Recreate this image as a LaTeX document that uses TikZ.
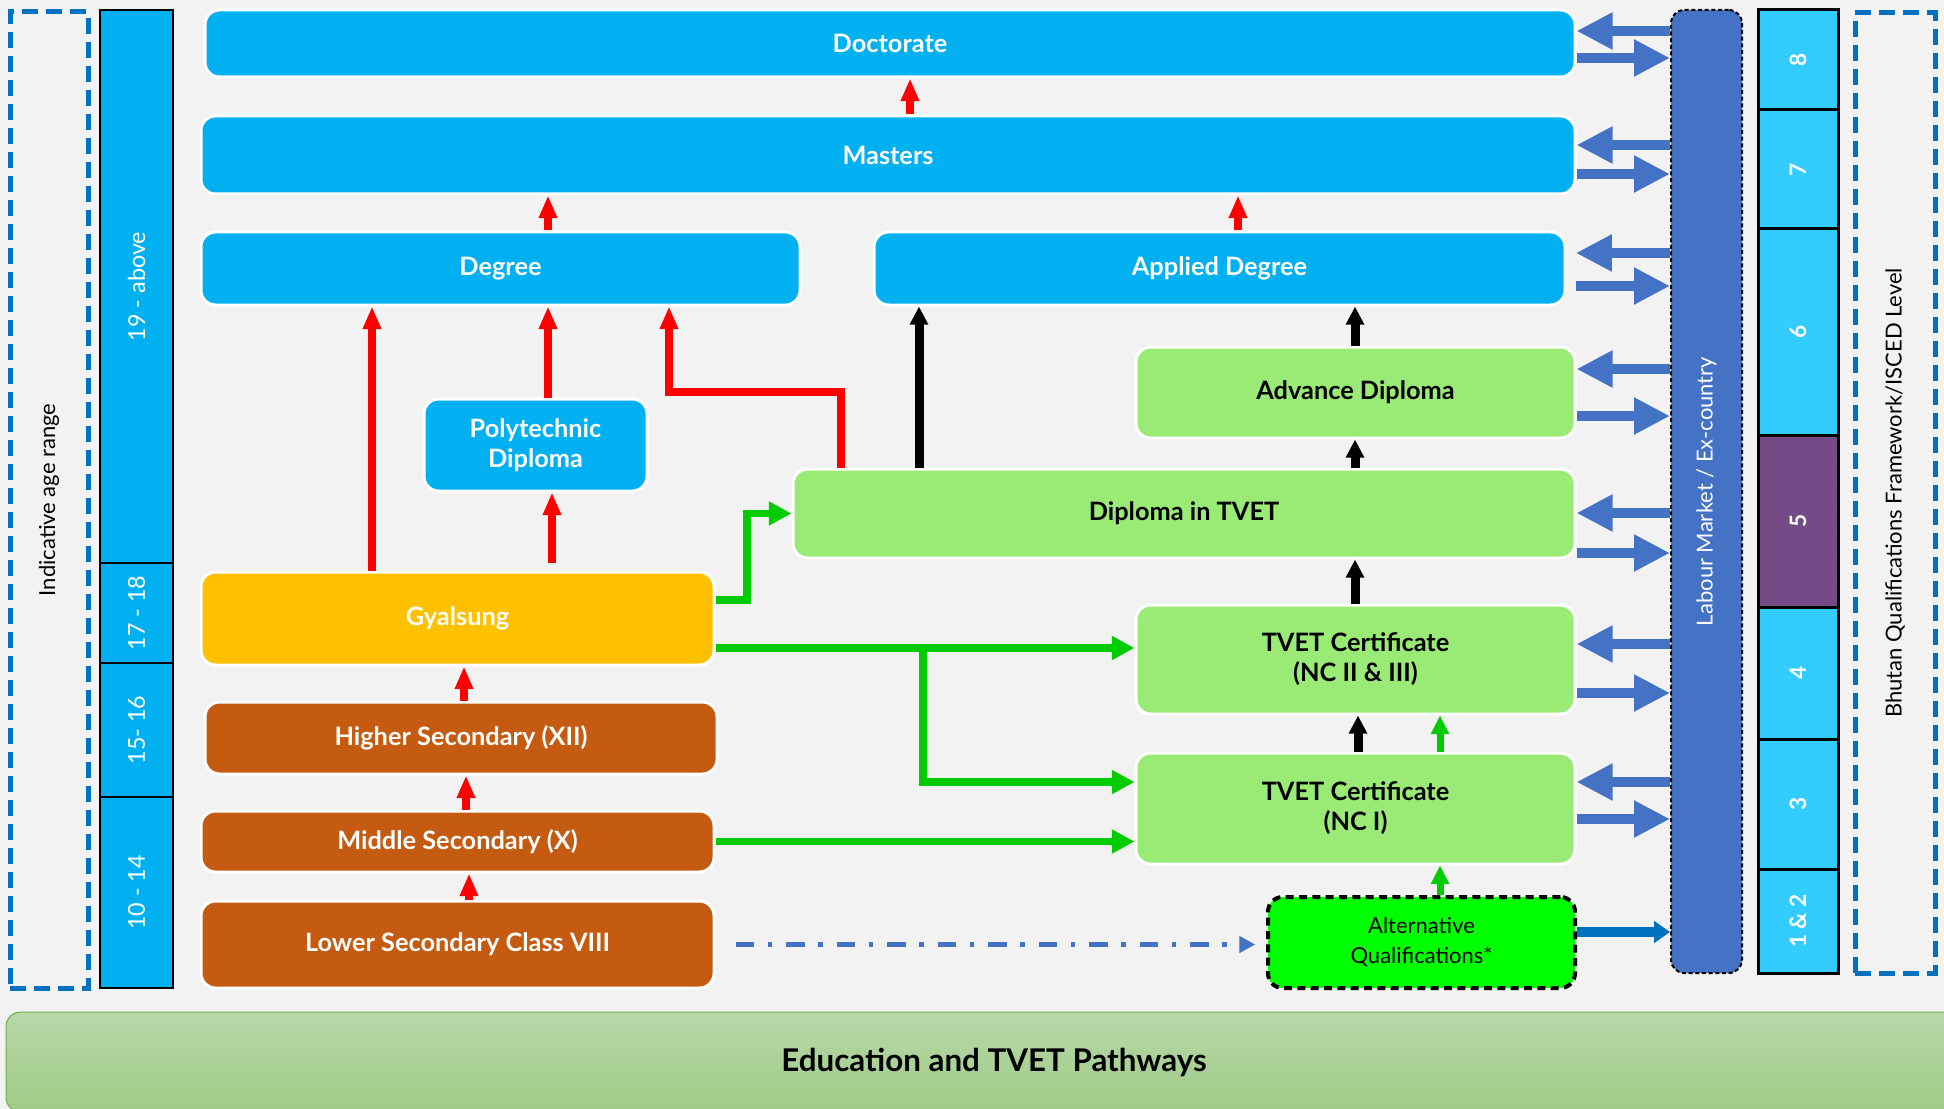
\documentclass[tikz,border=0pt]{standalone}
\usepackage{fontspec}
\setmainfont{Lato}
\usetikzlibrary{arrows.meta,fit}
\definecolor{cBg}{HTML}{F2F2F2}
\definecolor{cBlue}{HTML}{00B0F0}
\definecolor{cGreen}{HTML}{9AEB76}
\definecolor{cGold}{HTML}{FFC000}
\definecolor{cBrown}{HTML}{C55A11}
\definecolor{cAlt}{HTML}{00FF00}
\definecolor{cLab}{HTML}{4472C4}
\definecolor{cDeep}{HTML}{0070C0}
\definecolor{cLevel}{HTML}{33CCFF}
\definecolor{cPurple}{HTML}{744B86}
\definecolor{cRed}{HTML}{FF0000}
\definecolor{cLine}{HTML}{00CC00}
\definecolor{cBanTop}{HTML}{B7D8A9}
\definecolor{cBanBot}{HTML}{9ECB87}
\definecolor{cBanEdge}{HTML}{70AD47}
\newcommand\boxfont{\bfseries\fontsize{19}{22.5}\selectfont}
\newcommand\sidefont{\fontsize{16.5}{20}\selectfont}
% \qbox{style}{name}{left}{top}{right}{bottom}{text}: a box given by its corners (in px)
\newcommand\qbox[7]{%
  \pgfmathsetmacro\qw{0.75*(#5-#3)}%
  \pgfmathsetmacro\qh{0.75*(#6-#4)}%
  \node[#1, minimum width=\qw pt, minimum height=\qh pt] (#2) at ({(#3+#5)/2},{(#4+#6)/2}) {#7};}
\begin{document}
\begin{tikzpicture}[x=0.75pt,y=-0.75pt,
  box/.style={rounded corners=11pt, draw=white, line width=2.25pt, inner sep=0pt, align=center, font=\boxfont},
  blueb/.style={box, fill=cBlue, text=white},
  greenb/.style={box, fill=cGreen, text=black},
  goldb/.style={box, fill=cGold, text=white},
  brownb/.style={box, fill=cBrown, text=white},
  altb/.style={rounded corners=11pt, draw=black, line width=3pt, dash pattern=on 6pt off 4pt, fill=cAlt, inner sep=0pt, align=center, font=\fontsize{16.5}{22.5}\selectfont},
  labb/.style={rounded corners=10pt, draw=black, line width=1.5pt, dash pattern=on 3pt off 2pt, fill=cLab, inner sep=0pt},
  agecell/.style={draw=black, line width=1.5pt, fill=cBlue, inner sep=0pt},
  lvlcell/.style={draw=black, line width=2.25pt, fill=cLevel, inner sep=0pt},
  agetxt/.style={rotate=90, text=white, font=\fontsize{17.5}{20}\selectfont},
  lvltxt/.style={rotate=90, text=white, font=\bfseries\fontsize{17}{20}\selectfont},
  sidetxt/.style={rotate=90, font=\sidefont},
  dashbox/.style={draw=cDeep, line width=3.75pt, dash pattern=on 12pt off 6pt, inner sep=0pt},
  banner/.style={rounded corners=11pt, draw=cBanEdge, line width=0.75pt, top color=cBanTop, bottom color=cBanBot, inner sep=0pt, font=\bfseries\fontsize{23.5}{26}\selectfont},
  redarr/.style={draw=cRed, line width=6pt, -{Triangle[length=17pt,width=13pt]}},
  blackarr/.style={draw=black, line width=6.75pt, -{Triangle[length=13.5pt,width=13pt]}},
  greenarr/.style={draw=cLine, line width=5.6pt, -{Triangle[length=17pt,width=17pt]}},
  greenup/.style={draw=cLine, line width=5.25pt, -{Triangle[length=14pt,width=13pt]}},
  dbl/.style={draw=cLab, line width=7.5pt, -{Triangle[length=27pt,width=26pt]}},
  altarr/.style={draw=cDeep, line width=7pt, -{Triangle[length=12pt,width=16pt]}},
  dashdot/.style={draw=cLab, line width=3.4pt, dash pattern=on 14pt off 10pt on 3.4pt off 10.5pt, -{Triangle[length=12pt,width=12pt]}}
]
\useasboundingbox (0,0) rectangle (1944,1109);
\clip (0,0) rectangle (1944,1109);
\fill[cBg] (0,0) rectangle (1944,1109);

% title banner
\qbox{banner}{title}{6}{1012}{1982}{1112}{Education and TVET Pathways}

% age range column
\node[dashbox, fit={(10,12)(88,988)}] (agebox) {};
\node[sidetxt] (agelbl) at (agebox) {Indicative age range};
\node[agecell, fit={(100,10)(173,563)}] (a19) {};
\node[agecell, fit={(100,563)(173,663)}] (a17) {};
\node[agecell, fit={(100,663)(173,797)}] (a15) {};
\node[agecell, fit={(100,797)(173,988)}] (a10) {};
\node[agetxt] (t19) at (a19) {19 - above};
\node[agetxt] (t17) at (a17) {17 - 18};
\node[agetxt] (t15) at (a15) {15- 16};
\node[agetxt] (t10) at (a10) {10 - 14};

% qualification levels column
\node[dashbox, fit={(1855,13)(1935,973)}] (lvlbox) {};
\node[sidetxt] (lvllbl) at (lvlbox) {Bhutan Qualifications Framework/ISCED Level};
\node[lvlcell, fit={(1758,10)(1838,110)}] (l8) {};
\node[lvlcell, fit={(1758,110)(1838,229)}] (l7) {};
\node[lvlcell, fit={(1758,229)(1838,435)}] (l6) {};
\node[lvlcell, fill=cPurple, fit={(1758,435)(1838,607)}] (l5) {};
\node[lvlcell, fit={(1758,607)(1838,739)}] (l4) {};
\node[lvlcell, fit={(1758,739)(1838,869)}] (l3) {};
\node[lvlcell, fit={(1758,869)(1838,973)}] (l12) {};
\node[lvltxt] (n8) at (l8) {8};
\node[lvltxt] (n7) at (l7) {7};
\node[lvltxt] (n6) at (l6) {6};
\node[lvltxt] (n5) at (l5) {5};
\node[lvltxt] (n4) at (l4) {4};
\node[lvltxt] (n3) at (l3) {3};
\node[lvltxt] (n12) at (l12) {1 \& 2};

% labour market bar
\node[labb, fit={(1671,10)(1742,973)}] (lab) {};
\node[sidetxt, text=white] (lablbl) at (lab) {Labour Market / Ex-country};

% qualification boxes
\qbox{blueb}{doc}{205}{10}{1575}{77}{Doctorate}
\qbox{blueb}{mas}{201}{116}{1575}{194}{Masters}
\qbox{blueb}{deg}{201}{232}{800}{305}{Degree}
\qbox{blueb}{adeg}{874}{232}{1565}{305}{Applied Degree}
\qbox{blueb}{poly}{424}{399}{647}{491}{Polytechnic\\Diploma}
\qbox{greenb}{adv}{1136}{347}{1575}{438}{Advance Diploma}
\qbox{greenb}{dip}{793}{469}{1575}{558}{Diploma in TVET}
\qbox{goldb}{gya}{201}{572}{714}{665}{Gyalsung}
\qbox{greenb}{nc2}{1136}{605}{1575}{714}{TVET Certificate\\(NC II \& III)}
\qbox{greenb}{nc1}{1136}{753}{1575}{864}{TVET Certificate\\(NC I)}
\qbox{brownb}{hs}{205}{702}{717}{774}{Higher Secondary (XII)}
\qbox{brownb}{ms}{201}{811}{714}{872}{Middle Secondary (X)}
\qbox{brownb}{ls}{201}{901}{714}{988}{Lower Secondary Class VIII}
\qbox{altb}{alt}{1268}{897}{1575}{988}{Alternative\\Qualifications*}

% academic progression
\draw[redarr] (910,0 |- mas.north) -- (910,0 |- doc.south);
\draw[redarr] (548,0 |- deg.north) -- (548,0 |- mas.south);
\draw[redarr] (1238,0 |- adeg.north) -- (1238,0 |- mas.south);
\draw[redarr] (372,0 |- gya.north) -- (372,0 |- deg.south);
\draw[redarr] (548,0 |- poly.north) -- (548,0 |- deg.south);
\draw[redarr] (552,563) -- (552,0 |- poly.south);
\draw[redarr] (841,0 |- dip.north) -- (841,392) -| (669,0 |- deg.south);
\draw[redarr] (464,0 |- hs.north) -- (464,0 |- gya.south);
\draw[redarr] (466,0 |- ms.north) -- (466,0 |- hs.south);
\draw[redarr] (469,0 |- ls.north) -- (469,0 |- ms.south);

% TVET progression
\draw[blackarr] (919,0 |- dip.north) -- (919,0 |- adeg.south);
\draw[blackarr] (1355,0 |- adv.north) -- (1355,0 |- adeg.south);
\draw[blackarr] (1355,0 |- dip.north) -- (1355,0 |- adv.south);
\draw[blackarr] (1355,0 |- nc2.north) -- (1355,0 |- dip.south);
\draw[blackarr] (1358,0 |- nc1.north) -- (1358,0 |- nc2.south);
\draw[greenup] (1440,0 |- nc1.north) -- (1440,0 |- nc2.south);
\draw[greenup] (1440,0 |- alt.north) -- (1440,0 |- nc1.south);

% entry routes into TVET
\coordinate (split) at (923,648);
\draw[greenarr] (gya.east |- 0,600) -- (747,600) |- (dip.west);
\draw[greenarr] (gya.east |- split) -- (nc2.west |- split);
\draw[greenarr] (split) |- (nc1.west |- 0,782);
\draw[greenarr] (ms.east) -- (nc1.west |- ms.east);
\draw[dashdot] ([xshift=15pt]ls.east) -- ([xshift=-8pt]alt.west |- ls.east);
\draw[altarr] (alt.east |- 0,932) -- (lab.west |- 0,932);

% links with the labour market
\draw[dbl] (lab.west |- 0,31) -- (doc.east |- 0,31);
\draw[dbl] (doc.east |- 0,58) -- (lab.west |- 0,58);
\draw[dbl] (lab.west |- 0,145) -- (mas.east |- 0,145);
\draw[dbl] (mas.east |- 0,174) -- (lab.west |- 0,174);
\draw[dbl] (lab.west |- 0,253) -- ([xshift=7pt]adeg.east |- 0,253);
\draw[dbl] ([xshift=7pt]adeg.east |- 0,286) -- (lab.west |- 0,286);
\draw[dbl] (lab.west |- 0,369) -- (adv.east |- 0,369);
\draw[dbl] (adv.east |- 0,416) -- (lab.west |- 0,416);
\draw[dbl] (lab.west |- 0,513) -- (dip.east |- 0,513);
\draw[dbl] (dip.east |- 0,553) -- (lab.west |- 0,553);
\draw[dbl] (lab.west |- 0,644) -- (nc2.east |- 0,644);
\draw[dbl] (nc2.east |- 0,693) -- (lab.west |- 0,693);
\draw[dbl] (lab.west |- 0,782) -- (nc1.east |- 0,782);
\draw[dbl] (nc1.east |- 0,819) -- (lab.west |- 0,819);
\end{tikzpicture}
\end{document}
